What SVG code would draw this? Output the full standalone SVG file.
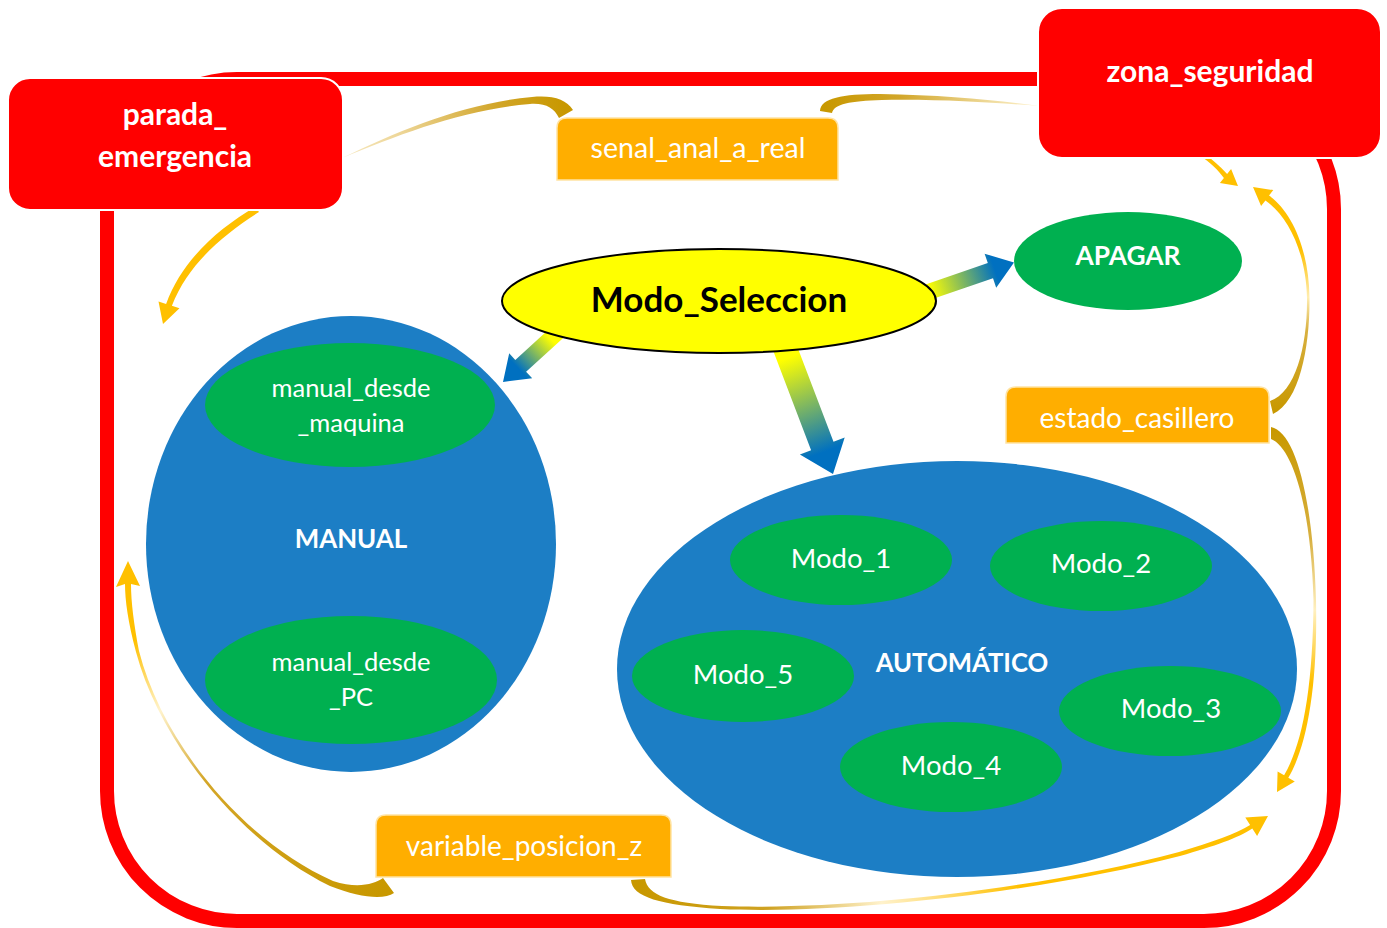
<svg xmlns="http://www.w3.org/2000/svg" width="1387" height="928" viewBox="0 0 1387 928">
  <style>
    .lbl{font-family:Lato,"Liberation Sans",sans-serif;fill:#fff;text-anchor:middle}
    .b{font-weight:bold}
    .red{fill:#FF0000;stroke:#fff;stroke-width:2}
    .org{fill:#FFAE00;stroke:#FFE3A3;stroke-width:1.5}
    .grn{fill:#00B050}
    .blu{fill:#1C7EC5}
    .frame{fill:none;stroke:#FF0000;stroke-width:14}
  </style>
  <defs>
    <!-- block arrows: yellow to blue -->
    <linearGradient id="ga1" gradientUnits="userSpaceOnUse" x1="930" y1="292" x2="995" y2="270">
      <stop offset="0" stop-color="#FFFF00"/><stop offset="1" stop-color="#0070C0"/>
    </linearGradient>
    <linearGradient id="ga2" gradientUnits="userSpaceOnUse" x1="550" y1="338" x2="518" y2="368">
      <stop offset="0" stop-color="#FFFF00"/><stop offset="1" stop-color="#0070C0"/>
    </linearGradient>
    <linearGradient id="ga3" gradientUnits="userSpaceOnUse" x1="788" y1="358" x2="824" y2="452">
      <stop offset="0" stop-color="#FFFF00"/><stop offset="1" stop-color="#0070C0"/>
    </linearGradient>
    <!-- curved connectors: dark gold tail, pale middle, gold head -->
    <linearGradient id="gc1" gradientUnits="userSpaceOnUse" x1="565" y1="110" x2="345" y2="157">
      <stop offset="0" stop-color="#C89800"/><stop offset="0.3" stop-color="#D2A62A"/><stop offset="0.75" stop-color="#EED79A"/><stop offset="1" stop-color="#F6E7BC"/>
    </linearGradient>
    <linearGradient id="gc2" gradientUnits="userSpaceOnUse" x1="825" y1="105" x2="1040" y2="106">
      <stop offset="0" stop-color="#C89800"/><stop offset="0.35" stop-color="#D2A62A"/><stop offset="0.8" stop-color="#F1DEA3"/><stop offset="1" stop-color="#FFF2CC"/>
    </linearGradient>
    <linearGradient id="gc4" gradientUnits="userSpaceOnUse" x1="1285" y1="410" x2="1262" y2="192">
      <stop offset="0" stop-color="#C89800"/><stop offset="0.35" stop-color="#D8B040"/><stop offset="0.5" stop-color="#FFEDB0"/><stop offset="0.72" stop-color="#FFC000"/><stop offset="1" stop-color="#FFC000"/>
    </linearGradient>
    <linearGradient id="gc5" gradientUnits="userSpaceOnUse" x1="1285" y1="430" x2="1282" y2="790">
      <stop offset="0" stop-color="#C89800"/><stop offset="0.3" stop-color="#D8B040"/><stop offset="0.5" stop-color="#FFF0C0"/><stop offset="0.7" stop-color="#FFC000"/><stop offset="1" stop-color="#FFC000"/>
    </linearGradient>
    <linearGradient id="gc6" gradientUnits="userSpaceOnUse" x1="390" y1="888" x2="128" y2="565">
      <stop offset="0" stop-color="#C89800"/><stop offset="0.48" stop-color="#D4A628"/><stop offset="0.68" stop-color="#FFF3CC"/><stop offset="0.85" stop-color="#FFC000"/><stop offset="1" stop-color="#FFC000"/>
    </linearGradient>
    <linearGradient id="gc7" gradientUnits="userSpaceOnUse" x1="640" y1="890" x2="1265" y2="820">
      <stop offset="0" stop-color="#C89800"/><stop offset="0.2" stop-color="#CFA222"/><stop offset="0.38" stop-color="#FFF2CC"/><stop offset="0.6" stop-color="#FFC000"/><stop offset="1" stop-color="#FFC000"/>
    </linearGradient>
  </defs>

  <!-- outer boundary -->
  <rect class="frame" x="107" y="79" width="1227" height="842" rx="130" ry="130"/>

  <g id="connectors">
    <!-- Modo_Seleccion to APAGAR -->
    <polygon fill="url(#ga1)" points="902.4,292.4 987.8,263.1 984.6,253.7 1014,262.6 996.2,287.7 993,278.3 907.6,307.6"/>
    <!-- Modo_Seleccion to MANUAL -->
    <polygon fill="url(#ga2)" points="554.6,324.1 515.3,359.9 509.2,353.3 503,382 532.2,378.3 526.1,371.7 565.4,335.9"/>
    <!-- Modo_Seleccion to AUTOMATICO -->
    <polygon fill="url(#ga3)" points="768.8,339.3 811.1,450.3 799.9,454.5 833,474 844.7,437.5 833.5,441.7 791.2,330.7"/>

    <!-- senal_anal_a_real to parada_emergencia -->
    <path fill="url(#gc1)" d="M573,110 C566,99 552,95 532,97 C465,103 400,130 342,158 C400,134 465,109 530,104 C546,103 554,108 559,118 Z"/>
    <!-- senal_anal_a_real to zona_seguridad -->
    <path fill="url(#gc2)" d="M820,111 C821,98 842,94 880,94 C945,95 995,100 1040,106 C995,103 945,99 882,100 C850,101 834,104 832,113 Z"/>
    <!-- zona_seguridad outgoing -->
    <path fill="#FFC000" d="M1200,156 C1210,162 1218,170 1223.9,178 L1219.9,183 L1238,186 L1231.1,169 L1227.1,174 C1220,166 1212,159 1204,154 Z"/>
    <!-- estado_casillero to zona_seguridad -->
    <path fill="url(#gc4)" d="M1273,414 C1300,402 1310,345 1309.5,298 C1309,250 1292,212 1269,195.6 L1273.3,190.1 L1253,187 L1261.1,205.9 L1265.4,200.4 C1288,216 1306,252 1307,298 C1307.5,345 1296,392 1270,401 Z"/>
    <!-- estado_casillero downward -->
    <path fill="url(#gc5)" d="M1271,427 C1296,432 1313,500 1316,600 C1318,690 1306,748 1288.3,777.8 L1294.8,781.6 L1277,792 L1277.6,771.4 L1284.1,775.2 C1302,745 1313,690 1313.5,600 C1311,505 1292,447 1271,439 Z"/>
    <!-- variable_posicion_z upward on the left -->
    <path fill="url(#gc6)" d="M394,893 C384,900 360,898 330,886 C240,842 160,742 136,652 C128,622 125,600 125,584 L116,587 L128,561 L140,586 L131,584 C131,602 134,625 139,651 C162,741 241,840 333,881 C358,889 374,884 383,878 Z"/>
    <!-- variable_posicion_z along the bottom -->
    <path fill="url(#gc7)" d="M631,880 C632,897 660,905 720,909 C850,915 1050,890 1180,856 C1215,846 1238,838 1252.3,828.5 L1257.1,836 L1268,816 L1245.3,817.6 L1250.1,825.1 C1236,834 1213,842 1179,852 C1050,887 850,911 722,906 C668,903 648,895 645,879 Z"/>
    <!-- parada_emergencia outgoing -->
    <path fill="#FFC000" d="M255,207 C218,229 182,260 166.1,304 L158.5,301.6 L163,324 L179.5,308.2 L171.9,305.8 C188,264 223,235 259,212 Z"/>
  </g>

  <g id="parada_emergencia">
    <rect class="red" x="8" y="78" width="335" height="132" rx="22"/>
    <text class="lbl b" x="175" y="125" font-size="30">parada_</text>
    <text class="lbl b" x="175" y="167" font-size="30">emergencia</text>
  </g>

  <g id="zona_seguridad">
    <rect class="red" x="1038" y="8" width="343" height="150" rx="24"/>
    <text class="lbl b" x="1210" y="82" font-size="30">zona_seguridad</text>
  </g>

  <g id="senal_anal_a_real">
    <path class="org" d="M557,180 V128 Q557,118 567,118 H828 Q838,118 838,128 V180 Z"/>
    <text class="lbl" x="698" y="158" font-size="28.6">senal_anal_a_real</text>
  </g>

  <g id="estado_casillero">
    <path class="org" d="M1006,443 V397 Q1006,387 1016,387 H1259 Q1269,387 1269,397 V443 Z"/>
    <text class="lbl" x="1137" y="428" font-size="28">estado_casillero</text>
  </g>

  <g id="variable_posicion_z">
    <path class="org" d="M376,877 V825 Q376,815 386,815 H661 Q671,815 671,825 V877 Z"/>
    <text class="lbl" x="524" y="856" font-size="28">variable_posicion_z</text>
  </g>

  <g id="Modo_Seleccion">
    <ellipse cx="719" cy="301" rx="217" ry="52" fill="#FFFF00" stroke="#000" stroke-width="2"/>
    <text x="719" y="312" font-size="35" font-weight="bold" fill="#000" text-anchor="middle" font-family="Lato,'Liberation Sans',sans-serif">Modo_Seleccion</text>
  </g>

  <g id="APAGAR">
    <ellipse class="grn" cx="1128" cy="261" rx="114" ry="49"/>
    <text class="lbl b" x="1128" y="265" font-size="26.3">APAGAR</text>
  </g>

  <g id="MANUAL">
    <ellipse class="blu" cx="351" cy="544" rx="205" ry="228"/>
    <text class="lbl b" x="351" y="548" font-size="25.9">MANUAL</text>
    <g id="manual_desde_maquina">
      <ellipse class="grn" cx="350" cy="405" rx="145" ry="62"/>
      <text class="lbl" x="351" y="397" font-size="25.5">manual_desde</text>
      <text class="lbl" x="351" y="432" font-size="25.5">_maquina</text>
    </g>
    <g id="manual_desde_PC">
      <ellipse class="grn" cx="351" cy="680" rx="146" ry="64"/>
      <text class="lbl" x="351" y="671" font-size="25.5">manual_desde</text>
      <text class="lbl" x="351" y="706" font-size="25.5">_PC</text>
    </g>
  </g>

  <g id="AUTOMATICO">
    <ellipse class="blu" cx="957" cy="669" rx="340" ry="208"/>
    <text class="lbl b" x="962" y="672" font-size="25.7">AUTOMÁTICO</text>
    <g id="Modo_1">
      <ellipse class="grn" cx="841" cy="560" rx="111" ry="45"/>
      <text class="lbl" x="841" y="568" font-size="27.5">Modo_1</text>
    </g>
    <g id="Modo_2">
      <ellipse class="grn" cx="1101" cy="566" rx="111" ry="45"/>
      <text class="lbl" x="1101" y="573" font-size="27.5">Modo_2</text>
    </g>
    <g id="Modo_5">
      <ellipse class="grn" cx="743" cy="676" rx="111" ry="46"/>
      <text class="lbl" x="743" y="684" font-size="27.5">Modo_5</text>
    </g>
    <g id="Modo_3">
      <ellipse class="grn" cx="1170" cy="711" rx="111" ry="45"/>
      <text class="lbl" x="1171" y="718" font-size="27.5">Modo_3</text>
    </g>
    <g id="Modo_4">
      <ellipse class="grn" cx="951" cy="767" rx="111" ry="45"/>
      <text class="lbl" x="951" y="775" font-size="27.5">Modo_4</text>
    </g>
  </g>
</svg>
